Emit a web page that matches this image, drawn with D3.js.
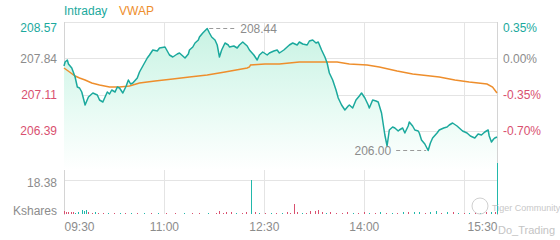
<!DOCTYPE html>
<html>
<head>
<meta charset="utf-8">
<script src="https://cdn.jsdelivr.net/npm/d3@7"></script>
<style>
  html, body { margin: 0; padding: 0; background: #fff; }
  svg { display: block; font-family: "Liberation Sans", Arial, sans-serif; }
</style>
</head>
<body>
<div id="chart"></div>
<script>
// minutes since 09:30 and last price
const priceMin = [0,1,3,4,7,10,12,14,16,19,22,24,26,30,32,35,39,41,43,46,48,50,53,56,58,60,62,66,68,71,75,77,80,84,86,91,94,95,98,102,104,107,109,112,113,116,118,121,122,125,129,131,133,136,138,140,142,145,148,149,153,156,158,161,165,167,171,174,176,179,183,185,189,192,194,198,201,203,206,210,212,215,219,221,224,227,229,232,235,237,239,242,245,247,250,253,256,257,260,263,266,268,271,274,275,278,281,283,286,289,291,293,296,298,301,302,305,307,310,311,314,316,319,320,322,325,328,330,332,336,338,342,345,347,350,354,356,359,363,366,370,373,376,379,382,383,385,387,388,390];
const price = [207.69,207.77,207.81,207.73,207.65,207.47,207.27,207.25,207.17,206.91,207.07,207.11,207.15,207.11,207.01,206.97,207.17,207.13,207.21,207.17,207.27,207.25,207.15,207.29,207.41,207.33,207.35,207.45,207.57,207.69,207.85,207.91,208.01,207.99,208.05,208.07,207.95,207.91,207.87,207.93,207.95,207.89,207.85,207.93,208.01,208.07,208.15,208.21,208.27,208.35,208.44,208.35,208.27,208.21,208.11,207.87,208.01,208.15,208.11,208.07,208.09,208.05,208.11,208.17,208.09,208.01,207.91,207.81,207.91,207.97,207.91,207.95,207.99,208.01,207.95,208.01,208.07,208.11,208.15,208.11,208.17,208.13,208.11,208.19,208.21,208.15,208.17,208.01,207.87,207.75,207.55,207.41,207.21,207.05,206.91,206.81,206.89,206.91,206.85,207.01,207.09,207.15,207.05,206.91,206.85,207.01,206.99,206.97,206.75,206.31,206.09,206.41,206.47,206.45,206.39,206.41,206.45,206.35,206.49,206.57,206.49,206.41,206.39,206.35,206.21,206.13,206.00,206.15,206.25,206.35,206.41,206.45,206.47,206.51,206.55,206.49,206.45,206.39,206.35,206.29,206.25,206.33,206.31,206.37,206.41,206.29,206.17,206.23,206.25,206.27];

const vwapMin = [0,5,10,14,19,25,32,41,50,59,68,82,98,113,129,145,165,167,168,181,194,212,233,246,257,273,284,300,314,338,352,365,381,386,390];
const vwap = [207.65,207.57,207.49,207.45,207.41,207.35,207.31,207.27,207.27,207.29,207.35,207.39,207.43,207.47,207.51,207.57,207.65,207.67,207.71,207.73,207.73,207.77,207.77,207.77,207.73,207.71,207.67,207.59,207.53,207.47,207.41,207.37,207.33,207.27,207.15];

// volume bars (K shares), 'u' up / 'd' down
const volMin = [0,2,4,6,8,10,13,16,18,20,22,25,28,31,35,40,45,50,55,60,66,72,78,85,92,100,108,115,122,130,137,140,143,146,150,155,160,164,168,172,176,181,186,191,196,201,204,207,210,214,218,222,226,229,232,236,240,245,250,255,260,265,270,275,280,285,290,295,300,305,310,315,320,325,330,335,340,345,350,355,360,365,370,375,380,385,388,390];
const volK = [1.4,1.1,1.2,0.9,1.0,0.8,1.2,1.9,1.5,2.2,0.9,0.7,0.9,0.6,0.8,0.6,0.7,0.5,0.6,0.7,0.5,0.8,0.6,0.5,0.7,0.6,0.5,0.6,0.7,0.5,0.6,1.6,0.8,1.3,0.9,0.6,0.7,1.0,18.4,0.9,0.7,0.6,0.5,0.6,0.8,0.9,0.6,5.4,1.1,0.7,0.6,1.8,1.4,2.1,1.2,0.8,0.9,0.7,0.6,1.0,0.8,0.7,1.1,0.6,0.8,0.9,0.7,0.6,0.8,1.1,0.9,1.3,1.2,0.8,1.0,1.4,0.7,1.2,0.9,0.8,0.6,0.8,1.0,0.7,0.9,1.2,1.0,27.5];
const volDir = ['d','d','d','d','d','u','u','u','u','u','d','d','u','d','d','u','d','u','d','u','d','u','d','u','d','d','u','d','d','u','d','d','d','d','d','u','d','d','u','d','u','d','u','d','u','d','d','d','d','u','d','d','d','d','d','u','d','d','d','d','u','d','d','u','d','u','d','u','d','u','d','u','u','d','u','u','d','u','d','u','d','u','d','u','d','u','d','u'];

const priceTicks = [208.57, 207.84, 207.11, 206.39];
const pctTicks = ["0.35%", "0.00%", "-0.35%", "-0.70%"];
const timeTicks = [0, 90, 180, 270, 360];
const timeLabels = ["09:30", "11:00", "12:30", "14:00", "15:30"];
const volTick = 18.38;
const prevClose = 207.84;
const highVal = 208.44, lowVal = 206.00;

const width = 560, height = 240;
const left = 64, right = 497;
const teal = "#1ba99d", orange = "#ee8e2c", red = "#d9506f", gray = "#8c8c8c", grid = "#e4e4e4";

const svg = d3.select("#chart").append("svg")
    .attr("width", width)
    .attr("height", height);

const x = d3.scaleLinear([0, 390], [left, right]);
const y = d3.scaleLinear([206.39, 208.57], [131, 22]);
const yv = d3.scaleLinear([0, volTick], [214, 180]);
const priceBottom = 170;

const defs = svg.append("defs");
const grad = defs.append("linearGradient")
    .attr("id", "fade")
    .attr("gradientUnits", "userSpaceOnUse")
    .attr("x1", 0).attr("x2", 0)
    .attr("y1", 22).attr("y2", priceBottom);
grad.append("stop").attr("offset", "0%").style("stop-color", "#c6f2e2");
grad.append("stop").attr("offset", "60%").style("stop-color", "#e8fbf4");
grad.append("stop").attr("offset", "100%").style("stop-color", "#ffffff");

// grid
const gGrid = svg.append("g").attr("stroke", grid).attr("stroke-width", 1).attr("shape-rendering", "crispEdges");
priceTicks.forEach(t => {
    gGrid.append("line").attr("x1", left).attr("x2", right)
        .attr("y1", Math.round(y(t)) + 0.5).attr("y2", Math.round(y(t)) + 0.5);
});
gGrid.append("line").attr("x1", left).attr("x2", right)
    .attr("y1", Math.round(yv(volTick)) + 0.5).attr("y2", Math.round(yv(volTick)) + 0.5);
timeTicks.slice(1).forEach(t => {
    gGrid.append("line").attr("x1", Math.round(x(t)) + 0.5).attr("x2", Math.round(x(t)) + 0.5)
        .attr("y1", 22).attr("y2", 214);
});
gGrid.append("line").attr("x1", left + 0.5).attr("x2", left + 0.5).attr("y1", 22).attr("y2", 215).attr("stroke", "#d4d4d4");
gGrid.append("line").attr("x1", right + 0.5).attr("x2", right + 0.5).attr("y1", 22).attr("y2", 215).attr("stroke", "#d4d4d4");

// price area + lines
const pts = priceMin.map((m, i) => [m, price[i]]);
const area = d3.area()
    .x(d => x(d[0]))
    .y0(priceBottom)
    .y1(d => y(d[1]));
const line = d3.line()
    .x(d => x(d[0]))
    .y(d => y(d[1]));

svg.append("path")
    .attr("fill", "url(#fade)")
    .attr("d", area(pts));

svg.append("path")
    .attr("fill", "none")
    .attr("stroke", orange)
    .attr("stroke-width", 1.5)
    .attr("d", line(vwapMin.map((m, i) => [m, vwap[i]])));

svg.append("path")
    .attr("fill", "none")
    .attr("stroke", teal)
    .attr("stroke-width", 1.5)
    .attr("stroke-linejoin", "round")
    .attr("d", line(pts));

// volume
svg.append("g")
    .attr("shape-rendering", "crispEdges")
    .selectAll("line")
    .data(volMin)
    .join("line")
    .attr("x1", d => Math.round(x(d)) + 0.5)
    .attr("x2", d => Math.round(x(d)) + 0.5)
    .attr("y1", yv(0))
    .attr("y2", (d, i) => yv(volK[i]))
    .attr("stroke", (d, i) => volDir[i] == 'u' ? "#22b8ab" : red)
    .attr("stroke-width", 1);

// high / low markers
const hi = priceMin[price.indexOf(highVal)];
const lo = priceMin[price.indexOf(lowVal)];
svg.append("line")
    .attr("x1", x(hi) + 2).attr("x2", x(hi) + 30)
    .attr("y1", y(highVal)).attr("y2", y(highVal))
    .attr("stroke", "#9a9a9a").attr("stroke-dasharray", "4,3");
svg.append("text")
    .attr("x", x(hi) + 33).attr("y", y(highVal) + 4)
    .attr("fill", gray).attr("font-size", 12)
    .text(highVal.toFixed(2));
svg.append("line")
    .attr("x1", x(lo) - 32).attr("x2", x(lo) - 2)
    .attr("y1", y(lowVal)).attr("y2", y(lowVal))
    .attr("stroke", "#9a9a9a").attr("stroke-dasharray", "4,3");
svg.append("text")
    .attr("x", x(lo) - 37).attr("y", y(lowVal) + 4)
    .attr("text-anchor", "end")
    .attr("fill", gray).attr("font-size", 12)
    .text(lowVal.toFixed(2));

// price and percent labels
const colorFor = v => v > prevClose ? teal : (v < prevClose ? red : gray);
svg.append("g").selectAll("text")
    .data(priceTicks)
    .join("text")
    .attr("x", 57)
    .attr("y", (d, i) => (i == 0 ? y(d) + 10 : y(d) + 4))
    .attr("text-anchor", "end")
    .attr("font-size", 12)
    .attr("fill", d => colorFor(d))
    .text(d => d.toFixed(2));

svg.append("g").selectAll("text")
    .data(pctTicks)
    .join("text")
    .attr("x", 503)
    .attr("y", (d, i) => (i == 0 ? y(priceTicks[i]) + 10 : y(priceTicks[i]) + 4))
    .attr("font-size", 12)
    .attr("fill", (d, i) => colorFor(priceTicks[i]))
    .text(d => d);

svg.append("text").attr("x", 57).attr("y", yv(volTick) + 7)
    .attr("text-anchor", "end").attr("font-size", 12).attr("fill", gray)
    .text(volTick.toFixed(2));
svg.append("text").attr("x", 57).attr("y", 215)
    .attr("text-anchor", "end").attr("font-size", 12).attr("fill", gray)
    .text("Kshares");

// time axis
const xAxis = d3.axisBottom(x)
    .tickValues(timeTicks)
    .tickSize(0)
    .tickPadding(0)
    .tickFormat((d, i) => timeLabels[i]);
const gx = svg.append("g").attr("transform", "translate(0,222)").call(xAxis);
gx.select(".domain").remove();
gx.selectAll("text")
    .attr("font-size", 12)
    .attr("fill", gray)
    .attr("font-family", "Liberation Sans, Arial, sans-serif")
    .attr("dy", "0.71em")
    .attr("text-anchor", (d, i) => i == 0 ? "start" : (i == timeTicks.length - 1 ? "end" : "middle"))
    .attr("x", (d, i) => i == timeTicks.length - 1 ? right - x(d) : 0);

// legend
svg.append("text").attr("x", 64).attr("y", 15).attr("font-size", 12).attr("fill", teal).text("Intraday");
svg.append("text").attr("x", 119).attr("y", 15).attr("font-size", 12).attr("fill", orange).text("VWAP");

// watermark
svg.append("circle").attr("cx", 480).attr("cy", 206).attr("r", 8)
    .attr("fill", "none").attr("stroke", "#d0d0d0").attr("stroke-width", 1);
svg.append("text").attr("x", 492).attr("y", 211).attr("font-size", 9).attr("fill", "#c8c8c8").text("Tiger Community");
svg.append("text").attr("x", 498).attr("y", 234).attr("font-size", 11).attr("fill", "#c4c4c4").text("Do_Trading");
</script>
</body>
</html>
